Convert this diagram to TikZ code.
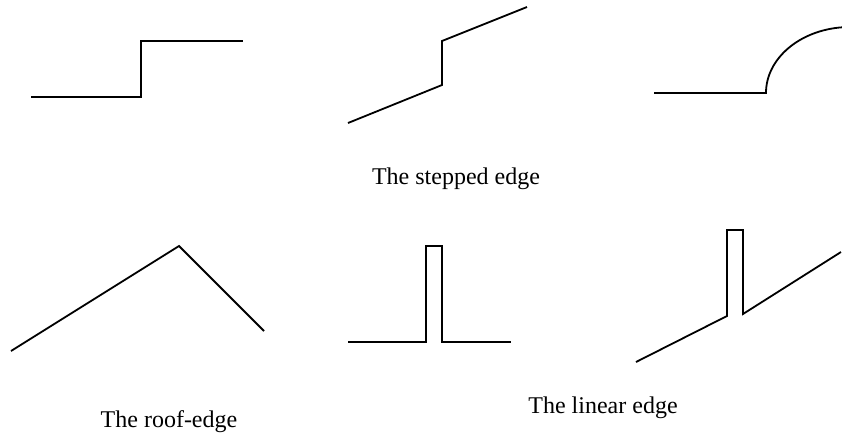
\documentclass[tikz,border=0pt]{standalone}
\usepackage{fontspec}
\setmainfont{Liberation Serif}
\usepackage{tikz}
\usetikzlibrary{positioning}

\begin{document}
\begin{tikzpicture}[x=0.5pt, y=-0.5pt,
    edg/.style={line width=0.9pt, line join=miter, black},
    lbl/.style={font=\fontsize{12}{14}\selectfont, inner sep=0pt, anchor=center},
]
\useasboundingbox (0,0) rectangle (842,436);

% === Row 1: stepped edges ===
\draw[edg] (31,97) -- (141,97) -- (141,41) -- (243,41);
\draw[edg] (348,123) -- (442,85) -- (442,41) -- (527,7);
\begin{scope}
  \clip (600,0) rectangle (842,140);
  \draw[edg] (654,93) -- (766,93) arc[start angle=180, end angle=265, x radius=84, y radius=66];
\end{scope}

% === Row 2: roof and linear edges ===
\draw[edg] (11,351) -- (179,246) -- (264,331);
\draw[edg] (348,342) -- (426,342) -- (426,246) -- (442,246) -- (442,342) -- (511,342);
\draw[edg] (636,362) -- (727,316) -- (727,230) -- (743,230) -- (743,314) -- (841,252);

% --- Captions ---
\node[lbl] (stp) at (456,179) {The stepped edge};
\node[lbl] (rof) at (169,422) {The roof-edge};
\node[lbl] (lin) at (603,408) {The linear edge};

\end{tikzpicture}
\end{document}
